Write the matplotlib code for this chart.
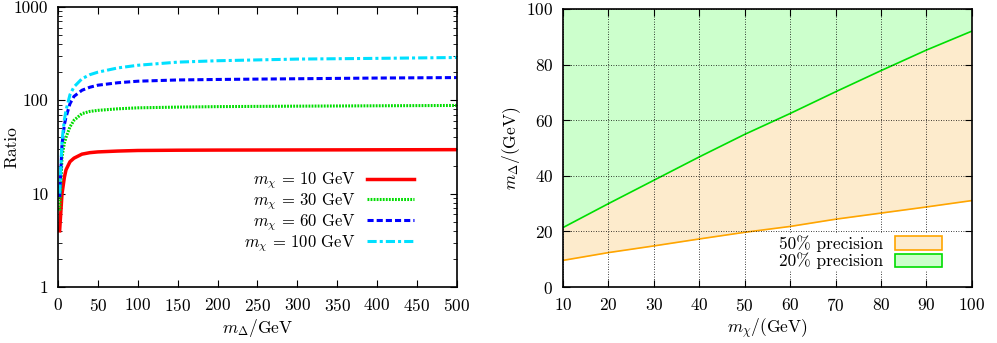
import numpy as np
import matplotlib
matplotlib.use("Agg")
import matplotlib.pyplot as plt
from matplotlib.ticker import FixedLocator, FixedFormatter, LogLocator, NullFormatter

plt.rcParams['font.family'] = ['cmr10', 'DejaVu Serif']
plt.rcParams['mathtext.fontset'] = 'cm'
plt.rcParams['axes.formatter.use_mathtext'] = True
plt.rcParams['font.size'] = 12.5

# left panel: ratio vs m_Delta for several m_chi
m_delta = [2, 5, 8, 10, 15, 20, 30, 40, 50, 75, 100, 150, 200, 300, 400, 500]
ratio_10 = [4.0, 10.0, 15.0, 18.0, 22.0, 24.0, 26.5, 27.5, 28.0, 28.6, 29.0, 29.2, 29.3, 29.4, 29.5, 29.6]
ratio_30 = [6.6, 25.0, 35.0, 40.0, 52.0, 61.0, 72.0, 76.0, 78.0, 81.0, 83.0, 84.5, 85.5, 86.5, 87.3, 88.0]
ratio_60 = [9.2, 34.0, 55.0, 66.0, 92.0, 110.0, 128.0, 138.0, 145.0, 154.0, 160.0, 165.0, 167.0, 170.0, 173.0, 175.0]
ratio_100 = [10.0, 37.0, 62.0, 78.0, 115.0, 139.0, 170.0, 188.0, 200.0, 222.0, 237.0, 256.0, 265.0, 276.0, 281.0, 287.0]

# right panel: precision regions
m_chi = [10, 20, 30, 40, 50, 60, 70, 80, 90, 100]
m_delta_50 = [9.6, 12.4, 14.8, 17.3, 19.7, 21.8, 24.4, 26.6, 28.8, 31.1]
m_delta_20 = [21.4, 30.0, 38.4, 46.8, 54.9, 62.4, 70.2, 77.8, 85.2, 92.0]

fig = plt.figure(figsize=(9.97, 3.43), dpi=100)

ax1 = fig.add_axes([0.0582, 0.163, 0.400, 0.817])
ax1.plot(m_delta, ratio_10, color='#ff0000', lw=2.5, ls='-', label=r'$m_\chi\,=\,10\ \mathrm{GeV}$')
ax1.plot(m_delta, ratio_30, color='#00dd00', lw=2.2, ls=(0, (0.6, 0.4)), label=r'$m_\chi\,=\,30\ \mathrm{GeV}$')
ax1.plot(m_delta, ratio_60, color='#0000ff', lw=2.2, ls=(0, (2, 1)), label=r'$m_\chi\,=\,60\ \mathrm{GeV}$')
ax1.plot(m_delta, ratio_100, color='#00e0ff', lw=2.2, ls=(0, (3, 1, 1, 1)), label=r'$m_\chi\,=\,100\ \mathrm{GeV}$')
ax1.set_yscale('log')
ax1.set_xlim(0, 500)
ax1.set_ylim(1, 1000)
ax1.xaxis.set_major_locator(FixedLocator(np.arange(0, 501, 50)))
ax1.yaxis.set_major_locator(FixedLocator([1, 10, 100, 1000]))
ax1.yaxis.set_major_formatter(FixedFormatter(['1', '10', '100', '1000']))
ax1.yaxis.set_minor_locator(LogLocator(base=10, subs=np.arange(2, 10)))
ax1.yaxis.set_minor_formatter(NullFormatter())
ax1.tick_params(which='both', direction='in', top=True, right=True)
ax1.tick_params(which='major', length=5, pad=7)
ax1.tick_params(which='minor', length=3)
ax1.set_xlabel(r'$m_\Delta$/GeV', labelpad=2)
ax1.set_ylabel('Ratio')
ax1.yaxis.set_label_coords(-0.098, 0.5)
ax1.legend(loc='lower right', bbox_to_anchor=(0.913, 0.09), frameon=False,
           markerfirst=False, handlelength=2.8, labelspacing=0.0, borderpad=0,
           handletextpad=0.7, fontsize=12)
for sp in ax1.spines.values():
    sp.set_linewidth(1.2)

ax2 = fig.add_axes([0.5647, 0.163, 0.410, 0.811])
ax2.fill_between(m_chi, m_delta_50, m_delta_20, color='#fdebcc', lw=0, zorder=1)
ax2.fill_between(m_chi, m_delta_20, 100, color='#ccffcc', lw=0, zorder=1)
ax2.plot(m_chi, m_delta_50, color='#ffa500', lw=1.2, zorder=2)
ax2.plot(m_chi, m_delta_20, color='#00dd00', lw=1.2, zorder=2)
ax2.fill_between([], [], [], facecolor='#fdebcc', edgecolor='#ffa500', lw=1.2, label='50% precision')
ax2.fill_between([], [], [], facecolor='#ccffcc', edgecolor='#00dd00', lw=1.2, label='20% precision')
ax2.set_xlim(10, 100)
ax2.set_ylim(0, 100)
ax2.xaxis.set_major_locator(FixedLocator(np.arange(10, 101, 10)))
ax2.yaxis.set_major_locator(FixedLocator(np.arange(0, 101, 20)))
ax2.set_axisbelow(False)
ax2.grid(True, color='black', ls=(0, (1, 2)), lw=0.6)
ax2.tick_params(direction='in', top=True, right=True, length=5, pad=7)
ax2.set_xlabel(r'$m_\chi$/(GeV)', labelpad=2)
ax2.set_ylabel(r'$m_\Delta$/(GeV)')
ax2.yaxis.set_label_coords(-0.098, 0.5)
leg = ax2.legend(loc='lower right', bbox_to_anchor=(0.932, 0.057), frameon=True,
                 fancybox=False, edgecolor='none', facecolor='white', framealpha=1,
                 markerfirst=False, handlelength=2.7, handleheight=0.8,
                 labelspacing=0.05, borderpad=0.1, borderaxespad=0, handletextpad=0.7)
leg.set_zorder(5)
for sp in ax2.spines.values():
    sp.set_linewidth(1.2)
    sp.set_zorder(6)

fig.savefig('out.png', dpi=100)
